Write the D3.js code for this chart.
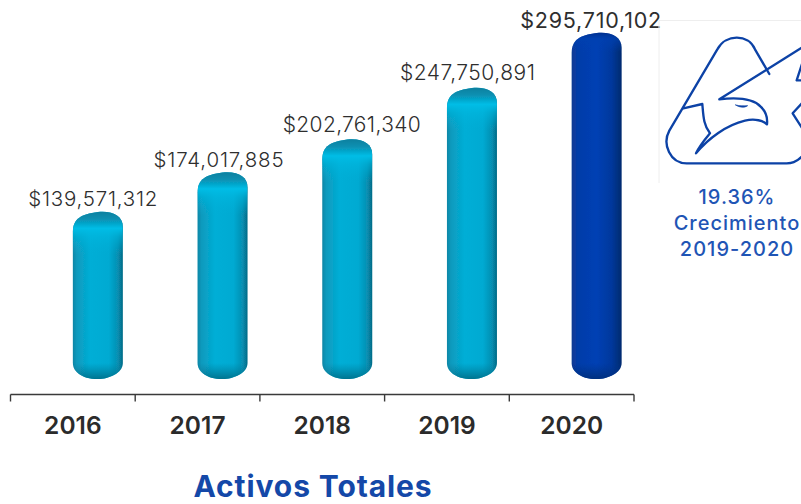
<!DOCTYPE html>
<html><head><meta charset="utf-8">
<script src="https://cdn.jsdelivr.net/npm/d3@7"></script>
<style>html,body{margin:0;background:#fff}svg{display:block}text{font-family:Inter,"Open Sans",sans-serif}</style>
</head><body><svg id="c" width="801" height="504"></svg>
<script>
const years=["2016","2017","2018","2019","2020"];
const activos=[139571312,174017885,202761340,247750891,295710102];
const valueLabels=["$139,571,312","$174,017,885","$202,761,340","$247,750,891","$295,710,102"];
const noteLines=["19.36%","Crecimiento","2019-2020"];
const chartTitle="Activos Totales";

// layout of the value labels (independent of the data)
const labelDx=[-5,-4,4.5,-4.5,-6];
const labelDy=[-6,-6,-8,-8,-5];
const labelWidth=[129,130,138,135,141];
const labelFont=[20.5,20.5,21,21,21.5];

const svg=d3.select("#c");
const x=d3.scaleBand().domain(years).range([10.5,634]);
const y=d3.scaleLinear().domain([0,295710102]).range([372,33]);
const defs=svg.append("defs");

function grad(id,vertical,stops){
  const g=defs.append("linearGradient").attr("id",id).attr("x1",0).attr("y1",0)
    .attr("x2",vertical?0:1).attr("y2",vertical?1:0);
  stops.forEach(s=>g.append("stop").attr("offset",s[0]).attr("stop-color",s[1]).attr("stop-opacity",s[2]===undefined?1:s[2]));
}
grad("cyan",false,[[0,"#0b86a6"],[.08,"#0a9abd"],[.35,"#03aed6"],[.72,"#03aad2"],[.9,"#078fb2"],[1,"#066a86"]]);
grad("navy",false,[[0,"#0a3a92"],[.12,"#053ca8"],[.5,"#0340b4"],[.8,"#04389c"],[1,"#062a6e"]]);
grad("capC",true,[[0,"#0b7a98",1],[.22,"#0890b2",1],[.42,"#02bde6",1],[.6,"#02b8e0",.6],[1,"#03aed6",0]]);
grad("capN",true,[[0,"#06287a",1],[.4,"#0440b0",.7],[1,"#0340b4",0]]);
grad("botC",true,[[0,"#067f9f",0],[1,"#06748f",1]]);
grad("botN",true,[[0,"#04348c",0],[1,"#04307e",1]]);
defs.append("filter").attr("id","soft").attr("x","-10%").attr("y","-10%").attr("width","120%").attr("height","120%")
  .append("feGaussianBlur").attr("stdDeviation",.6);

const barW=50;
function barPath(d){
  const l=x(d.year)+x.bandwidth()/2, r=l+barW, t=y(d.value), b=y(0)+7;
  return `M${l},${t+20}C${l},${t+7} ${l+8},${t+2} ${l+25},${t}C${r-10},${t-1.5} ${r},${t+4} ${r},${t+15}`
    +`L${r},${b-16}C${r},${b-6} ${r-14},${b} ${l+25},${b}C${l+8},${b} ${l},${b-8} ${l},${b-16}Z`;
}
const data=years.map((year,i)=>({year,i,value:activos[i],label:valueLabels[i],last:i===years.length-1}));
const bars=svg.append("g").selectAll("g").data(data).join("g").attr("filter","url(#soft)");
bars.append("path").attr("d",barPath).attr("fill",d=>d.last?"url(#navy)":"url(#cyan)");
bars.each(function(d){
  const g=d3.select(this), id="clip"+d.year, l=x(d.year)+x.bandwidth()/2, t=y(d.value), b=y(0)+7;
  defs.append("clipPath").attr("id",id).append("path").attr("d",barPath(d));
  const inner=g.append("g").attr("clip-path",`url(#${id})`);
  inner.append("rect").attr("x",l).attr("y",t-3).attr("width",barW).attr("height",d.last?22:46).attr("fill",d.last?"url(#capN)":"url(#capC)");
  inner.append("rect").attr("x",l).attr("y",b-16).attr("width",barW).attr("height",16).attr("fill",d.last?"url(#botN)":"url(#botC)");
});

svg.append("g").selectAll("text").data(data).join("text")
  .attr("x",d=>x(d.year)+x.bandwidth()/2+25+labelDx[d.i])
  .attr("y",d=>y(d.value)+labelDy[d.i])
  .attr("text-anchor","middle").attr("font-size",d=>labelFont[d.i]).attr("font-weight",d=>d.last?400:300).attr("fill","#2e2e2e")
  .attr("textLength",d=>labelWidth[d.i]).attr("lengthAdjust","spacing")
  .text(d=>d.label);

const axis=svg.append("g").attr("transform","translate(0,394.5)")
  .call(d3.axisBottom(x).tickSize(0).tickPadding(22));
axis.select(".domain").remove();
axis.selectAll("text").attr("font-size",24.5).attr("font-weight",600).attr("fill","#2b2b2b").attr("font-family","Inter").attr("dy","0.71em");
const edges=years.map(c=>x(c)).concat([x.range()[1]]);
axis.append("line").attr("x1",x.range()[0]).attr("x2",x.range()[1]).attr("stroke","#3a3a3a").attr("stroke-width",1.6);
axis.selectAll("line.t").data(edges).join("line").attr("class","t").attr("x1",d=>d).attr("x2",d=>d).attr("y1",0).attr("y2",7).attr("stroke","#3a3a3a").attr("stroke-width",1.4);

svg.append("text").attr("x",313).attr("y",497).attr("text-anchor","middle")
  .attr("font-size",30).attr("font-weight",700).attr("letter-spacing",.9).attr("fill","#1448a8").text(chartTitle);

// logo panel
svg.append("path").attr("d","M659,183V20.5H801").attr("fill","none").attr("stroke","#eeeeee").attr("stroke-width",1);
const logo=svg.append("g").attr("transform","translate(640,0) scale(0.3333)").attr("fill","none").attr("stroke","#0c42a6").attr("stroke-width",7).attr("stroke-linejoin","round").attr("stroke-linecap","round");
logo.append("path").attr("d","M388,222L345,148C325,102 258,100 232,148L88,392C66,432 90,490 140,490L440,490C460,490 475,482 490,465");
logo.append("path").attr("d","M490,140L238,298C290,292 340,296 362,320C378,335 383,355 381,373C370,362 345,355 315,362C260,375 205,415 168,460C180,435 195,418 210,400C190,375 190,345 187,312L130,325");
logo.append("path").attr("d","M287,315C300,318 312,318 323,317C315,323 300,324 287,315Z").attr("fill","#0c42a6").attr("stroke-width",2);
logo.append("path").attr("d","M490,180L470,241H490M490,305L458,340L490,390");

svg.append("g").selectAll("text").data(noteLines).join("text")
  .attr("x",737).attr("y",(d,i)=>204+i*26).attr("text-anchor","middle")
  .attr("font-size",20).attr("font-weight",500).attr("letter-spacing",1).attr("fill","#1f55b5").text(d=>d);
</script></body></html>
